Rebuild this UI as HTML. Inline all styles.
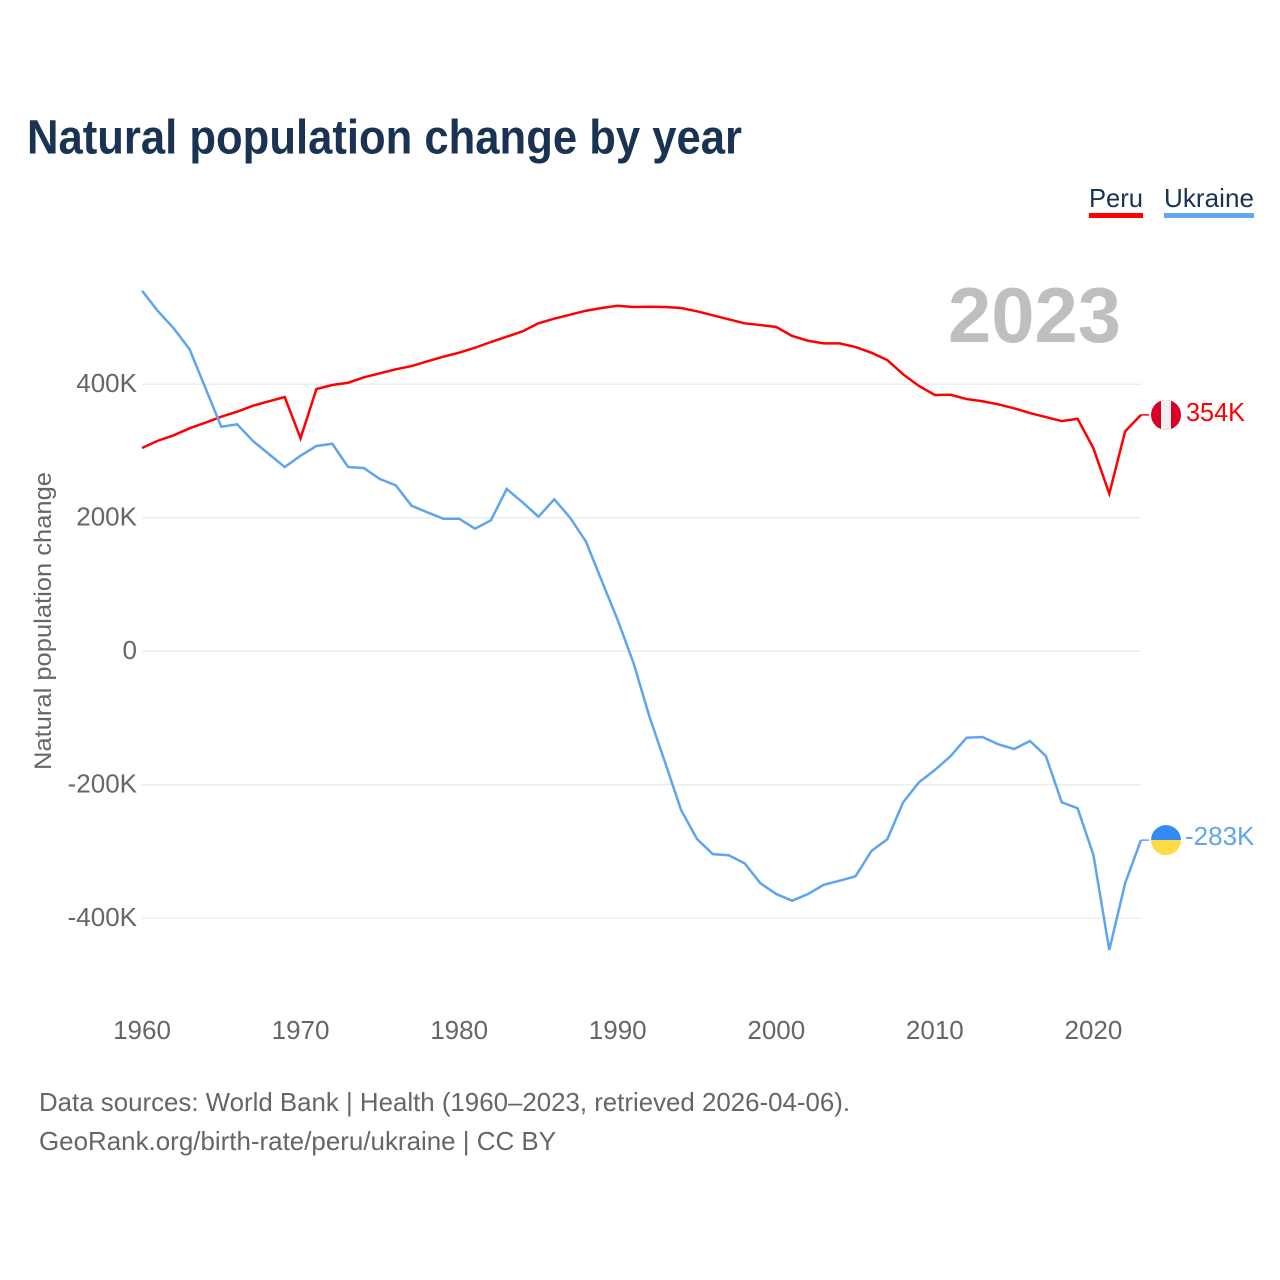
<!DOCTYPE html>
<html lang="en">
<head>
<meta charset="utf-8">
<title>Natural population change by year</title>
<style>
html,body{margin:0;padding:0;background:#fff;}
svg{display:block;font-family:"Liberation Sans",sans-serif;}
</style>
</head>
<body>
<svg id="chart" xmlns="http://www.w3.org/2000/svg" width="1280" height="1280" viewBox="0 0 1280 1280">
  <rect width="1280" height="1280" fill="#ffffff"/>
  <text x="27" y="153.5" font-size="48" font-weight="700" fill="#1a3353" textLength="715" lengthAdjust="spacingAndGlyphs">Natural population change by year</text>
  <g>
    <g>
      <text x="1089" y="207" font-size="26" fill="#1a3353" textLength="54" lengthAdjust="spacingAndGlyphs">Peru</text>
      <rect x="1089" y="213" width="54" height="5" fill="#ff0000"/>
    </g>
    <g>
      <text x="1164" y="207" font-size="26" fill="#1a3353" textLength="90" lengthAdjust="spacingAndGlyphs">Ukraine</text>
      <rect x="1164" y="213" width="90" height="5" fill="#63a7ee"/>
    </g>
  </g>
  <text x="1034.5" y="342" font-size="78" font-weight="700" fill="#bfbfbf" text-anchor="middle" textLength="173" lengthAdjust="spacingAndGlyphs">2023</text>
  <text transform="translate(51,621) rotate(-90)" font-size="24" fill="#666666" text-anchor="middle" textLength="298" lengthAdjust="spacingAndGlyphs">Natural population change</text>
  <g id="grid"></g>
  <g id="yLabels"></g>
  <g id="xLabels"></g>
  <g id="series"></g>
  <g id="ends"></g>
  <text x="39" y="1111" font-size="26" fill="#666666" textLength="811" lengthAdjust="spacingAndGlyphs">Data sources: World Bank | Health (1960–2023, retrieved 2026-04-06).</text>
  <text x="39" y="1150" font-size="26" fill="#666666" textLength="517" lengthAdjust="spacingAndGlyphs">GeoRank.org/birth-rate/peru/ukraine | CC BY</text>
</svg>
<script>
const firstYear = 1960;
const xTickYears = [1960, 1970, 1980, 1990, 2000, 2010, 2020];
const yTickValues = [400, 200, 0, -200, -400];
const peruValues = [
  304.4, 315.3, 323.4, 333.9, 342.3, 351.3, 358.8, 367.8, 374.4, 380.8,
  319.0, 392.8, 398.8, 402.2, 410.3, 416.3, 422.3, 427.2, 434.3, 441.2,
  447.2, 454.6, 463.2, 471.1, 479.2, 491.2, 498.1, 504.1, 510.1, 514.1,
  517.6, 515.6, 516.1, 515.6, 514.1, 509.2, 503.2, 497.2, 491.2, 488.6,
  485.7, 472.2, 465.1, 461.2, 461.2, 455.7, 447.2, 436.2, 414.8, 397.3,
  383.8, 384.2, 377.8, 374.4, 369.9, 363.9, 356.8, 350.8, 344.8, 348.3,
  304.0, 236.0, 329.4, 354.0
];
const ukraineValues = [
  540.0, 509.6, 483.7, 452.3, 394.3, 336.3, 339.9, 314.9, 295.4, 275.9,
  292.9, 307.4, 310.8, 275.9, 274.4, 258.0, 248.5, 218.0, 208.0, 198.5,
  198.5, 183.5, 196.0, 243.0, 223.0, 201.5, 227.5, 200.0, 164.0, 105.0,
  46.7, -18.0, -98.0, -167.5, -238.0, -281.3, -304.0, -305.7, -317.7, -347.7,
  -363.7, -373.8, -363.7, -350.0, -343.8, -337.2, -299.3, -281.8, -226.3, -196.4,
  -178.0, -157.0, -129.6, -128.5, -139.5, -146.5, -134.5, -157.0, -226.3, -235.3,
  -305.3, -447.6, -347.7, -283.0
];

const NS = 'http://www.w3.org/2000/svg';
const plotLeft = 142;
const plotRight = 1141;
const lastYear = 2023;
function xScale(year) {
  return plotLeft + (year - firstYear) * (plotRight - plotLeft) / (lastYear - firstYear);
}
function yScale(value) {
  return 651.2 - value * 0.6675;
}
function make(tag, attrs, parent, text) {
  const el = document.createElementNS(NS, tag);
  for (const k in attrs) el.setAttribute(k, attrs[k]);
  if (text !== undefined) el.textContent = text;
  parent.appendChild(el);
  return el;
}
function fmt(v) {
  return v === 0 ? '0' : Math.round(v) + 'K';
}

const grid = document.getElementById('grid');
const yLabels = document.getElementById('yLabels');
const xLabels = document.getElementById('xLabels');
const series = document.getElementById('series');
const ends = document.getElementById('ends');

yTickValues.forEach(function (v) {
  const line = make('line', {x1: plotLeft, x2: plotRight, y1: yScale(v), y2: yScale(v), stroke: '#eeeeee', 'stroke-width': 1.5}, grid);
  
  
  const label = make('text', {x: 137, y: yScale(v) + 8, 'text-anchor': 'end', 'font-size': 26, fill: '#666666'}, yLabels, fmt(v));
  
  
});

xTickYears.forEach(function (year) {
  const label = make('text', {x: xScale(year), y: 1039, 'text-anchor': 'middle', 'font-size': 26, fill: '#666666'}, xLabels, String(year));
  
  
});

function seriesPath(values) {
  return values.map(function (v, i) {
    return (i ? 'L' : 'M') + xScale(firstYear + i).toFixed(2) + ' ' + yScale(v).toFixed(2);
  }).join(' ');
}

const peruLine = make('path', {d: seriesPath(peruValues), fill: 'none', stroke: '#ff0000', 'stroke-width': 2.5, 'stroke-linejoin': 'miter'}, series);



const ukraineLine = make('path', {d: seriesPath(ukraineValues), fill: 'none', stroke: '#5fa5ee', 'stroke-width': 2.5, 'stroke-linejoin': 'miter'}, series);



/* Peru end marker */
const peruLast = peruValues[peruValues.length - 1];
const peruY = yScale(peruLast);
const peruConnector = make('line', {x1: plotRight, x2: 1149, y1: peruY, y2: peruY, stroke: '#ff0000', 'stroke-width': 1.5}, ends);


const peruFlag = make('g', {transform: 'translate(1166,' + peruY + ')'}, ends);


make('circle', {r: 15, fill: '#d80027'}, peruFlag);
make('path', {d: 'M-5 -14.14 A15 15 0 0 1 5 -14.14 L5 14.14 A15 15 0 0 1 -5 14.14 Z', fill: '#f0f0f0'}, peruFlag);
const peruLabel = make('text', {x: 1186, y: peruY + 6, 'font-size': 26, fill: '#ff0000', textLength: 59, lengthAdjust: 'spacingAndGlyphs'}, ends, fmt(peruLast));



/* Ukraine end marker */
const ukraineLast = ukraineValues[ukraineValues.length - 1];
const ukraineY = yScale(ukraineLast);
const ukraineConnector = make('line', {x1: plotRight, x2: 1149, y1: ukraineY, y2: ukraineY, stroke: '#5fa5ee', 'stroke-width': 1.5}, ends);


const ukraineFlag = make('g', {transform: 'translate(1166,' + ukraineY + ')'}, ends);


make('path', {d: 'M-15 0 A15 15 0 0 1 15 0 Z', fill: '#338af3'}, ukraineFlag);
make('path', {d: 'M-15 0 A15 15 0 0 0 15 0 Z', fill: '#ffda44'}, ukraineFlag);
const ukraineLabel = make('text', {x: 1185, y: ukraineY + 5, 'font-size': 26, fill: '#5fa5ee'}, ends, fmt(ukraineLast));


</script>
</body>
</html>
